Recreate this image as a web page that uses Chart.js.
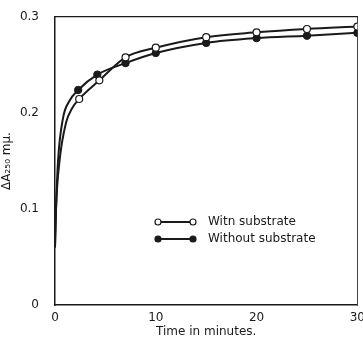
<!DOCTYPE html>
<html>
<head>
<meta charset="utf-8">
<script src="https://cdn.jsdelivr.net/npm/chart.js@4.4.0/dist/chart.umd.min.js"></script>
<style>
  body { margin: 0; background: #fff; }
  #wrap { width: 363px; height: 339px; }
</style>
</head>
<body>
<div id="wrap"><canvas id="chart" width="363" height="339"></canvas></div>
<script>
// time (min) and delta A values
let withTime = [0, 0.1, 0.45, 1.1, 1.7, 2.4, 4.4, 7, 10, 15, 20, 25, 30]
let withVals = [0.06, 0.1, 0.15, 0.19, 0.205, 0.2146, 0.234, 0.258, 0.268, 0.279, 0.284, 0.2875, 0.29]
let withMarks = [0, 0, 0, 0, 0, 1, 1, 1, 1, 1, 1, 1, 1]

let withoutTime = [0, 0.1, 0.3, 0.8, 1.4, 2.3, 4.2, 7, 10, 15, 20, 25, 30]
let withoutVals = [0.06, 0.1, 0.15, 0.195, 0.212, 0.224, 0.240, 0.252, 0.2625, 0.273, 0.278, 0.2805, 0.2835]
let withoutMarks = [0, 0, 0, 0, 0, 1, 1, 1, 1, 1, 1, 1, 1]

let seriesNames = ['Witn substrate', 'Without substrate']
let yTicks = [0, 0.1, 0.2, 0.3]
let xTicks = [0, 10, 20, 30]

const FONT = "'DejaVu Sans', sans-serif"
const INK = '#1a1a1a'

function toPoints(xs, ys) {
    return xs.map((x, i) => ({x: x, y: ys[i]}))
}

// legend drawn inside the plot, like the original figure
const insideLegend = {
    id: 'insideLegend',
    afterDraw(chart) {
        const ctx = chart.ctx
        const area = chart.chartArea
        const x0 = area.left + 103
        const x1 = area.left + 138
        let y = area.top + 205
        ctx.save()
        chart.data.datasets.forEach((ds, i) => {
            ctx.strokeStyle = INK
            ctx.lineWidth = 2
            ctx.beginPath()
            ctx.moveTo(x0, y)
            ctx.lineTo(x1, y)
            ctx.stroke()
            ;[x0, x1].forEach(px => {
                ctx.beginPath()
                ctx.arc(px, y, 3, 0, Math.PI * 2)
                ctx.fillStyle = ds.pointBackgroundColor
                ctx.fill()
                ctx.lineWidth = 1.2
                ctx.stroke()
            })
            ctx.fillStyle = INK
            ctx.font = '12px ' + FONT
            ctx.textBaseline = 'middle'
            ctx.fillText(ds.label, x1 + 15, y)
            y += 17
        })
        ctx.restore()
    }
}

const data = {
    datasets: [{
        label: seriesNames[0],
        data: toPoints(withTime, withVals),
        borderColor: INK,
        borderWidth: 2,
        pointBackgroundColor: '#ffffff',
        pointBorderColor: INK,
        pointBorderWidth: 1.2,
        pointRadius: withMarks.map(m => m * 3.5),
        cubicInterpolationMode: 'monotone',
        fill: false
    }, {
        label: seriesNames[1],
        data: toPoints(withoutTime, withoutVals),
        borderColor: INK,
        borderWidth: 2,
        pointBackgroundColor: INK,
        pointBorderColor: INK,
        pointBorderWidth: 1,
        pointRadius: withoutMarks.map(m => m * 3.7),
        cubicInterpolationMode: 'monotone',
        fill: false
    }]
}

const config = {
    type: 'line',
    data: data,
    plugins: [insideLegend],
    options: {
        responsive: false,
        animation: false,
        layout: {padding: {top: 17, right: 2, left: 0, bottom: 0}},
        plugins: {
            legend: {display: false},
            tooltip: {enabled: false}
        },
        scales: {
            x: {
                type: 'linear',
                min: 0,
                max: 30,
                afterBuildTicks: scale => { scale.ticks = xTicks.map(v => ({value: v})) },
                afterFit: scale => { scale.height = 34 },
                grid: {display: false},
                border: {display: true, color: INK, width: 1.5},
                ticks: {color: INK, font: {family: FONT, size: 12}, padding: -2, maxRotation: 0},
                title: {display: true, text: 'Time in minutes.', color: INK, font: {family: FONT, size: 12}, padding: 0}
            },
            y: {
                min: 0,
                max: 0.3,
                afterBuildTicks: scale => { scale.ticks = yTicks.map(v => ({value: v})) },
                afterFit: scale => { scale.width = 55 },
                grid: {display: false},
                border: {display: true, color: INK, width: 1.5},
                ticks: {
                    color: INK,
                    font: {family: FONT, size: 12},
                    padding: 8,
                    callback: v => v === 0 ? '0' : v.toFixed(1)
                },
                title: {display: true, text: 'ΔA₂₅₀ mμ.', color: INK, font: {family: FONT, size: 12}, padding: 0}
            },
            x2: {
                type: 'linear',
                position: 'top',
                min: 0,
                max: 30,
                afterFit: scale => { scale.height = 0 },
                grid: {display: false},
                ticks: {display: false},
                border: {display: true, color: INK, width: 1.2}
            },
            y2: {
                position: 'right',
                min: 0,
                max: 0.3,
                afterFit: scale => { scale.width = 0 },
                grid: {display: false},
                ticks: {display: false},
                border: {display: true, color: '#444', width: 1, dash: [7, 3]}
            }
        }
    }
}

let myChart = new Chart(document.getElementById('chart'), config)
</script>
</body>
</html>
